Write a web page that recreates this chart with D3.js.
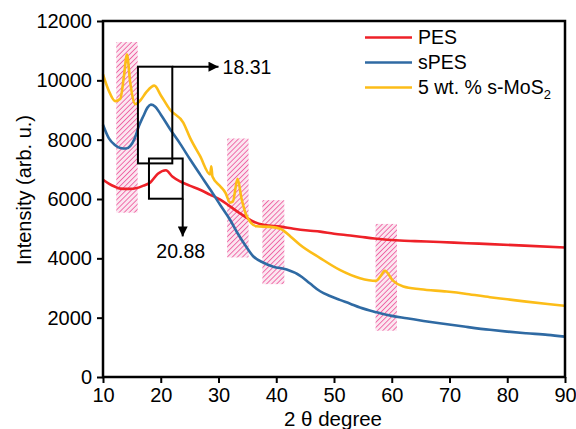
<!DOCTYPE html>
<html><head><meta charset="utf-8">
<script src="https://cdn.jsdelivr.net/npm/d3@7"></script>
<style>
html,body{margin:0;padding:0;background:#fff;}
svg{display:block;font-family:"Liberation Sans",Arial,sans-serif;}
</style></head>
<body>
<svg id="c" width="576" height="429"></svg>
<script>
// ---- data ----
const xTicks = [10,20,30,40,50,60,70,80,90];
const yTicks = [0,2000,4000,6000,8000,10000,12000];
const seriesNames = ["PES","sPES","5 wt. % s-MoS"];
const pesX = [10,11,12,13,14.5,15.9,17,18.2,19.5,20.9,22,23.4,25,26.8,28.5,30.3,32,34,36,38,40.7,43,45.5,47.6,50,52.8,54.5,57,61.4,64,68.3,73,77,83,90];
const pesY = [6650,6520,6420,6350,6340,6370,6450,6560,6850,6970,6760,6590,6450,6310,6150,5980,5750,5480,5240,5120,5070,5000,4940,4900,4830,4770,4730,4670,4600,4580,4550,4510,4480,4430,4365];
const spesX = [10,11,12,13,14,14.7,15.5,16.2,17,17.7,18.3,19,20,21.6,23.4,25.1,26.8,28.6,30.3,32,33.2,34.6,36,37.8,39.5,41.8,44.1,45.8,47.6,49.3,51,52.8,54.5,57.4,60,62.6,65.5,68.3,72.5,77,80,83.3,87,90];
const spesY = [8500,8050,7830,7720,7700,7780,8050,8450,8800,9080,9180,9120,8850,8360,7850,7330,6830,6310,5800,5300,4880,4450,4070,3850,3720,3620,3420,3160,2890,2730,2600,2470,2340,2180,2060,1980,1890,1810,1700,1590,1530,1475,1420,1360];
const mosX = [10,11,12.1,13,13.6,14.15,14.7,15.6,16.45,17.5,18.9,20,21.6,23.9,25.1,26.8,28.55,28.75,28.95,30.3,31.2,32.0,32.5,33.3,34,34.9,36.6,38.9,40.7,42.5,44.1,47.6,51,54.5,57.3,58.0,58.8,60.2,62,65,69.5,73,77,80,83.3,87,90];
const mosY = [10200,9650,9300,9380,10100,10870,9950,9200,9320,9600,9820,9500,9010,8575,8050,7450,6830,7100,6760,6430,6210,5880,5920,6680,6000,5420,5080,5060,5000,4730,4460,4010,3610,3330,3240,3380,3580,3250,3050,2960,2880,2800,2690,2620,2540,2460,2400];
const colors = ["#ee2128","#2f6aa3","#fcbd18"];
// hatched highlight regions [x0,x1,y0,y1]
const bandX0 = [12.3,31.5,37.6,57.2];
const bandX1 = [16.0,35.2,41.4,60.9];
const bandY0 = [5540,4030,3130,1560];
const bandY1 = [11290,8040,5960,5160];
// annotation boxes
const boxA = [16.05,22.0,7200,10460];
const boxB = [17.96,23.8,6010,7365];
const peakLabels = ["18.31","20.88"];

// ---- layout ----
const svg = d3.select("#c");
const L = 103, R = 565, T = 21, B = 377;
const x = d3.scaleLinear().domain([10,90]).range([L,R]);
const y = d3.scaleLinear().domain([0,12000]).range([B,T]);

const defs = svg.append("defs");
const pat = defs.append("pattern").attr("id","hatch").attr("patternUnits","userSpaceOnUse")
  .attr("width",3.6).attr("height",3.6).attr("patternTransform","rotate(45)");
pat.append("rect").attr("width",3.6).attr("height",3.6).attr("fill","#fbe3ee");
pat.append("line").attr("x1",0).attr("y1",0).attr("x2",0).attr("y2",3.6)
  .attr("stroke","#ea3f8e").attr("stroke-width",1.6);
defs.append("marker").attr("id","arr").attr("viewBox","0 0 10 10").attr("refX",10).attr("refY",5)
  .attr("markerWidth",18).attr("markerHeight",10).attr("markerUnits","userSpaceOnUse").attr("orient","auto")
  .append("path").attr("d","M0,0 L10,5 L0,10 Z").attr("fill","#000");

// bands
svg.append("g").selectAll("rect").data(bandX0).join("rect")
  .attr("x",(d,i)=>x(d)).attr("width",(d,i)=>x(bandX1[i])-x(d))
  .attr("y",(d,i)=>y(bandY1[i])).attr("height",(d,i)=>y(bandY0[i])-y(bandY1[i]))
  .attr("fill","url(#hatch)").attr("opacity",0.9);

// lines
const line = d3.line().x(d=>x(d[0])).y(d=>y(d[1])).curve(d3.curveMonotoneX);
const series = [d3.zip(pesX,pesY), d3.zip(spesX,spesY), d3.zip(mosX,mosY)];
series.forEach((s,i)=>{
  svg.append("path").datum(s).attr("d",line).attr("fill","none")
    .attr("stroke",colors[i]).attr("stroke-width",2.6).attr("stroke-linejoin","round");
});

// annotation boxes
[boxA,boxB].forEach(b=>{
  svg.append("rect").attr("x",x(b[0])).attr("y",y(b[3])).attr("width",x(b[1])-x(b[0]))
    .attr("height",y(b[2])-y(b[3])).attr("fill","none").attr("stroke","#000").attr("stroke-width",2);
});
svg.append("line").attr("x1",x(boxA[1])).attr("y1",y(boxA[3])).attr("x2",x(30.0)).attr("y2",y(boxA[3]))
  .attr("stroke","#000").attr("stroke-width",2).attr("marker-end","url(#arr)");
svg.append("line").attr("x1",x(boxB[1])).attr("y1",y(boxB[2])).attr("x2",x(boxB[1])).attr("y2",y(4740))
  .attr("stroke","#000").attr("stroke-width",2).attr("marker-end","url(#arr)");
svg.append("text").attr("x",x(30.7)).attr("y",y(boxA[3])).attr("dy","0.35em")
  .attr("font-size",19.5).text(peakLabels[0]);
svg.append("text").attr("x",x(boxB[1])-2).attr("y",258).attr("text-anchor","middle")
  .attr("font-size",19.5).text(peakLabels[1]);

// frame
svg.append("rect").attr("x",L).attr("y",T).attr("width",R-L).attr("height",B-T)
  .attr("fill","none").attr("stroke","#000").attr("stroke-width",2.5);

// axes
const xa = svg.append("g").attr("transform",`translate(0,${B})`)
  .call(d3.axisBottom(x).tickValues(xTicks).tickSize(6).tickPadding(5).tickFormat(d3.format("d")));
const ya = svg.append("g").attr("transform",`translate(${L},0)`)
  .call(d3.axisLeft(y).tickValues(yTicks).tickSize(6).tickPadding(5).tickFormat(d3.format("d")));
[xa,ya].forEach(a=>{
  a.select(".domain").remove();
  a.selectAll(".tick line").attr("stroke","#000").attr("stroke-width",2);
  a.selectAll(".tick text").attr("font-size",20).attr("fill","#000")
    .attr("font-family",'"Liberation Sans",Arial,sans-serif');
});

// axis titles
svg.append("text").attr("x",333).attr("y",426).attr("text-anchor","middle").attr("font-size",20.5)
  .text("2 θ degree");
svg.append("text").attr("transform","translate(31,190) rotate(-90)").attr("text-anchor","middle")
  .attr("font-size",20).text("Intensity (arb. u.)");

// legend
const lg = svg.append("g");
seriesNames.forEach((n,i)=>{
  const yy = 37.5 + i*25;
  lg.append("line").attr("x1",365).attr("x2",412).attr("y1",yy).attr("y2",yy)
    .attr("stroke",colors[i]).attr("stroke-width",2.6);
  const t = lg.append("text").attr("x",418).attr("y",yy).attr("dy","0.35em").attr("font-size",19.5).text(n);
  if(i===2) t.append("tspan").attr("font-size",13).attr("dy",5).text("2");
});
</script>
</body></html>
